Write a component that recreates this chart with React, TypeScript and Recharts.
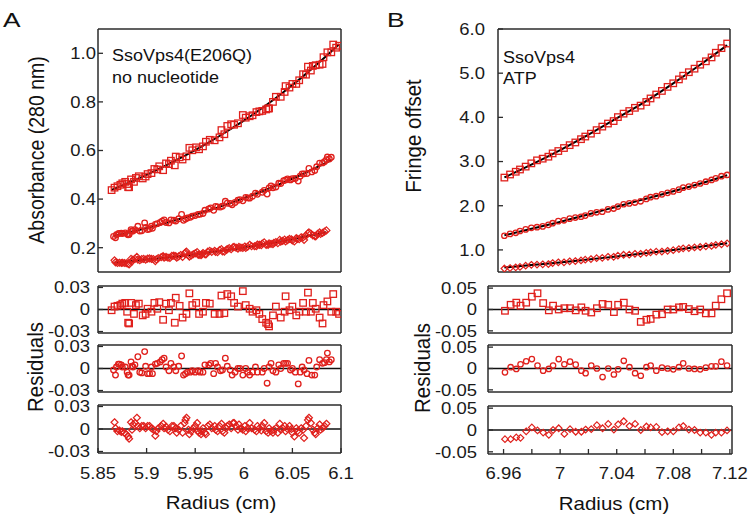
import { ComposedChart, Scatter, Line, XAxis, YAxis, ReferenceLine } from 'recharts'

const RED = '#e0201c'
const AX = '#2b2b2b'
const FONT = '"Liberation Sans", Arial, sans-serif'
const SX = 1.12

// ---- panel A: SsoVps4(E206Q), no nucleotide (absorbance 280 nm) ----
const xA1 = [5.864, 5.867, 5.870, 5.873, 5.875, 5.878, 5.880, 5.881, 5.882, 5.884, 5.887, 5.889, 5.892, 5.896, 5.899, 5.901, 5.905, 5.908, 5.911, 5.913, 5.917, 5.920, 5.923, 5.925, 5.929, 5.930, 5.934, 5.937, 5.941, 5.944, 5.947, 5.951, 5.954, 5.958, 5.961, 5.965, 5.970, 5.975, 5.977, 5.980, 5.983, 5.987, 5.990, 5.994, 5.999, 6.002, 6.006, 6.009, 6.013, 6.016, 6.019, 6.023, 6.025, 6.026, 6.030, 6.033, 6.038, 6.042, 6.043, 6.047, 6.050, 6.054, 6.057, 6.061, 6.064, 6.066, 6.069, 6.071, 6.074, 6.078, 6.081, 6.082, 6.086, 6.090, 6.092, 6.095, 6.098]
const obsA1 = [0.437, 0.447, 0.453, 0.459, 0.465, 0.471, 0.462, 0.449, 0.449, 0.481, 0.471, 0.487, 0.494, 0.485, 0.493, 0.503, 0.507, 0.524, 0.522, 0.535, 0.519, 0.547, 0.544, 0.558, 0.539, 0.575, 0.572, 0.563, 0.576, 0.611, 0.601, 0.613, 0.605, 0.617, 0.636, 0.644, 0.642, 0.654, 0.684, 0.667, 0.701, 0.708, 0.706, 0.712, 0.746, 0.735, 0.741, 0.745, 0.758, 0.761, 0.763, 0.769, 0.773, 0.773, 0.800, 0.821, 0.821, 0.841, 0.865, 0.859, 0.874, 0.874, 0.889, 0.914, 0.912, 0.945, 0.929, 0.948, 0.951, 0.953, 0.956, 0.984, 1.004, 1.004, 1.036, 1.023, 1.031]
const resA1 = [-0.001, 0.004, 0.005, 0.006, 0.008, 0.009, -0.003, -0.018, -0.019, 0.009, -0.006, 0.006, 0.008, -0.008, -0.006, 0.001, -0.003, 0.009, 0.001, 0.010, -0.014, 0.008, -0.001, 0.009, -0.018, 0.016, 0.005, -0.011, -0.006, 0.022, 0.006, 0.009, -0.006, -0.003, 0.009, 0.008, -0.006, -0.006, 0.019, -0.005, 0.021, 0.018, 0.009, 0.004, 0.025, 0.006, 0.001, -0.003, -0.001, -0.006, -0.013, -0.018, -0.020, -0.023, -0.008, 0.004, -0.011, -0.003, 0.018, -0.001, 0.004, -0.008, -0.003, 0.009, -0.003, 0.023, -0.003, 0.009, 0.001, -0.011, -0.019, 0.006, 0.011, -0.003, 0.021, -0.003, -0.006]
const fitXA1 = [5.864, 5.88, 5.90, 5.92, 5.94, 5.96, 5.98, 6.00, 6.02, 6.04, 6.06, 6.08, 6.098]
const fitA1 = [0.438, 0.465, 0.500, 0.539, 0.580, 0.624, 0.672, 0.723, 0.778, 0.838, 0.902, 0.971, 1.037]

const xA2 = [5.866, 5.868, 5.869, 5.871, 5.872, 5.874, 5.875, 5.878, 5.880, 5.881, 5.882, 5.884, 5.885, 5.886, 5.888, 5.891, 5.893, 5.895, 5.898, 5.899, 5.901, 5.903, 5.905, 5.906, 5.909, 5.911, 5.914, 5.916, 5.918, 5.920, 5.923, 5.925, 5.928, 5.930, 5.933, 5.936, 5.938, 5.940, 5.942, 5.945, 5.947, 5.950, 5.953, 5.955, 5.958, 5.960, 5.964, 5.966, 5.969, 5.971, 5.973, 5.976, 5.978, 5.981, 5.983, 5.986, 5.988, 5.991, 5.994, 5.996, 5.999, 6.002, 6.004, 6.006, 6.009, 6.012, 6.014, 6.019, 6.021, 6.024, 6.026, 6.028, 6.030, 6.033, 6.036, 6.038, 6.041, 6.043, 6.045, 6.048, 6.050, 6.053, 6.056, 6.058, 6.060, 6.062, 6.065, 6.067, 6.070, 6.073, 6.075, 6.078, 6.081, 6.083, 6.085, 6.086, 6.088, 6.090]
const obsA2 = [0.246, 0.241, 0.253, 0.258, 0.259, 0.260, 0.258, 0.261, 0.256, 0.253, 0.254, 0.274, 0.269, 0.269, 0.274, 0.288, 0.269, 0.270, 0.302, 0.283, 0.275, 0.277, 0.288, 0.280, 0.296, 0.299, 0.304, 0.309, 0.314, 0.304, 0.302, 0.314, 0.313, 0.310, 0.319, 0.337, 0.313, 0.318, 0.322, 0.325, 0.330, 0.332, 0.337, 0.338, 0.341, 0.354, 0.359, 0.364, 0.354, 0.370, 0.368, 0.367, 0.371, 0.391, 0.383, 0.382, 0.377, 0.386, 0.395, 0.398, 0.393, 0.407, 0.405, 0.404, 0.412, 0.424, 0.420, 0.428, 0.436, 0.421, 0.446, 0.454, 0.447, 0.450, 0.465, 0.464, 0.476, 0.479, 0.483, 0.479, 0.484, 0.485, 0.474, 0.494, 0.504, 0.504, 0.505, 0.526, 0.512, 0.518, 0.533, 0.548, 0.549, 0.554, 0.562, 0.573, 0.565, 0.572]
const resA2 = [-0.002, -0.009, 0.002, 0.006, 0.006, 0.005, 0.002, 0.002, -0.005, -0.009, -0.009, 0.009, 0.003, 0.002, 0.005, 0.016, -0.005, -0.006, 0.023, 0.003, -0.007, -0.007, 0.002, -0.007, 0.006, 0.007, 0.009, 0.012, 0.014, 0.002, -0.003, 0.007, 0.002, -0.003, 0.003, 0.017, -0.009, -0.007, -0.005, -0.005, -0.003, -0.005, -0.003, -0.005, -0.005, 0.005, 0.005, 0.007, -0.007, 0.007, 0.002, -0.003, -0.002, 0.014, 0.003, -0.002, -0.009, -0.005, 0, 0, -0.009, 0, -0.005, -0.009, -0.005, 0.002, -0.005, -0.005, 0, -0.020, 0.002, 0.007, -0.003, -0.005, 0.005, 0, 0.007, 0.007, 0.007, -0.002, 0, -0.005, -0.021, -0.005, 0.002, -0.002, -0.007, 0.011, -0.009, -0.009, 0.002, 0.012, 0.007, 0.008, 0.012, 0.021, 0.009, 0.012]
const fitXA2 = [5.866, 5.88, 5.90, 5.92, 5.94, 5.96, 5.98, 6.00, 6.02, 6.04, 6.06, 6.09]
const fitA2 = [0.248, 0.261, 0.281, 0.302, 0.325, 0.349, 0.375, 0.404, 0.434, 0.467, 0.502, 0.560]

const xA3 = [5.867, 5.868, 5.870, 5.872, 5.874, 5.875, 5.877, 5.879, 5.881, 5.882, 5.884, 5.885, 5.886, 5.888, 5.890, 5.891, 5.893, 5.895, 5.897, 5.899, 5.901, 5.903, 5.905, 5.907, 5.909, 5.910, 5.912, 5.915, 5.917, 5.918, 5.920, 5.922, 5.924, 5.926, 5.928, 5.930, 5.931, 5.933, 5.935, 5.937, 5.939, 5.940, 5.941, 5.943, 5.944, 5.946, 5.948, 5.950, 5.952, 5.953, 5.954, 5.956, 5.957, 5.958, 5.960, 5.961, 5.963, 5.965, 5.967, 5.970, 5.971, 5.973, 5.975, 5.977, 5.978, 5.980, 5.982, 5.983, 5.985, 5.987, 5.989, 5.990, 5.992, 5.994, 5.995, 5.997, 5.999, 6.001, 6.002, 6.004, 6.006, 6.008, 6.011, 6.013, 6.014, 6.016, 6.018, 6.019, 6.021, 6.023, 6.025, 6.026, 6.028, 6.030, 6.031, 6.033, 6.035, 6.037, 6.038, 6.040, 6.042, 6.043, 6.045, 6.047, 6.049, 6.050, 6.052, 6.054, 6.055, 6.057, 6.059, 6.061, 6.062, 6.064, 6.066, 6.067, 6.069, 6.071, 6.073, 6.074, 6.076, 6.078, 6.079, 6.081, 6.083, 6.085]
const obsA3 = [0.148, 0.140, 0.137, 0.138, 0.137, 0.138, 0.137, 0.136, 0.134, 0.131, 0.154, 0.144, 0.151, 0.154, 0.162, 0.151, 0.149, 0.153, 0.154, 0.151, 0.155, 0.156, 0.154, 0.153, 0.145, 0.152, 0.157, 0.161, 0.165, 0.159, 0.162, 0.159, 0.158, 0.166, 0.167, 0.165, 0.159, 0.164, 0.170, 0.162, 0.176, 0.180, 0.184, 0.169, 0.163, 0.168, 0.173, 0.177, 0.182, 0.171, 0.170, 0.169, 0.173, 0.178, 0.173, 0.172, 0.184, 0.187, 0.183, 0.187, 0.183, 0.182, 0.190, 0.194, 0.185, 0.184, 0.191, 0.194, 0.198, 0.194, 0.202, 0.203, 0.200, 0.196, 0.203, 0.200, 0.199, 0.205, 0.199, 0.204, 0.212, 0.206, 0.206, 0.206, 0.213, 0.212, 0.210, 0.217, 0.222, 0.212, 0.212, 0.218, 0.216, 0.215, 0.220, 0.223, 0.219, 0.232, 0.225, 0.228, 0.233, 0.226, 0.231, 0.236, 0.234, 0.230, 0.226, 0.239, 0.236, 0.235, 0.243, 0.242, 0.232, 0.250, 0.259, 0.263, 0.258, 0.251, 0.248, 0.247, 0.257, 0.263, 0.257, 0.261, 0.266, 0.271]
const resA3 = [0.009, 0.001, -0.003, -0.002, -0.004, -0.003, -0.005, -0.007, -0.010, -0.013, 0.009, -0.001, 0.006, 0.008, 0.015, 0.004, 0.001, 0.004, 0.004, 0.001, 0.004, 0.004, 0.001, -0.001, -0.009, -0.003, 0.001, 0.004, 0.007, 0.001, 0.003, -0.001, -0.003, 0.004, 0.004, 0.001, -0.005, -0.001, 0.004, -0.005, 0.008, 0.012, 0.015, -0.001, -0.007, -0.003, 0.001, 0.004, 0.008, -0.003, -0.005, -0.007, -0.003, 0.001, -0.005, -0.007, 0.004, 0.006, 0.001, 0.004, -0.001, -0.003, 0.004, 0.007, -0.003, -0.005, 0.001, 0.004, 0.006, 0.001, 0.008, 0.008, 0.004, -0.001, 0.006, 0.001, -0.001, 0.004, -0.003, 0.001, 0.008, 0.001, -0.001, -0.003, 0.004, 0.001, -0.002, 0.004, 0.008, -0.003, -0.005, 0.001, -0.003, -0.005, -0.001, 0.001, -0.005, 0.007, -0.001, 0.001, 0.004, -0.003, 0, 0.004, 0, -0.005, -0.010, 0.001, -0.003, -0.005, 0.001, -0.001, -0.012, 0.004, 0.012, 0.015, 0.008, -0.001, -0.005, -0.007, 0.001, 0.006, -0.001, 0.001, 0.004, 0.007]
const fitXA3 = [5.867, 5.88, 5.90, 5.92, 5.94, 5.96, 5.98, 6.00, 6.02, 6.04, 6.06, 6.085]
const fitA3 = [0.139, 0.143, 0.151, 0.159, 0.168, 0.178, 0.189, 0.200, 0.214, 0.227, 0.243, 0.264]

// ---- panel B: SsoVps4, ATP (interference) ----
const xB = [6.961, 6.965, 6.969, 6.972, 6.976, 6.980, 6.984, 6.988, 6.992, 6.995, 6.999, 7.003, 7.007, 7.011, 7.015, 7.018, 7.022, 7.026, 7.030, 7.034, 7.038, 7.041, 7.045, 7.049, 7.053, 7.057, 7.061, 7.064, 7.068, 7.072, 7.076, 7.080, 7.084, 7.087, 7.091, 7.095, 7.099, 7.103, 7.107, 7.110, 7.114, 7.118]
const obsB1 = [2.637, 2.707, 2.769, 2.820, 2.885, 2.959, 3.027, 3.065, 3.110, 3.184, 3.238, 3.306, 3.371, 3.432, 3.506, 3.566, 3.631, 3.711, 3.791, 3.860, 3.916, 4.006, 4.084, 4.143, 4.216, 4.266, 4.348, 4.428, 4.517, 4.598, 4.690, 4.771, 4.859, 4.943, 5.022, 5.102, 5.192, 5.269, 5.357, 5.463, 5.567, 5.671]
const resB1 = [-0.003, 0.011, 0.016, 0.009, 0.016, 0.030, 0.038, 0.015, -0.002, 0.009, 0, 0.003, 0.003, -0.002, 0.005, -0.003, -0.007, 0.003, 0.013, 0.011, -0.006, 0.011, 0.016, 0, -0.003, -0.029, -0.024, -0.022, -0.012, -0.011, 0, 0, 0.005, 0.006, 0.001, -0.004, 0, -0.009, -0.009, 0.009, 0.024, 0.038]
const obsB2 = [1.321, 1.362, 1.387, 1.428, 1.464, 1.499, 1.514, 1.532, 1.567, 1.605, 1.651, 1.670, 1.708, 1.732, 1.750, 1.776, 1.826, 1.851, 1.864, 1.917, 1.936, 1.981, 2.034, 2.053, 2.072, 2.100, 2.155, 2.193, 2.216, 2.257, 2.291, 2.324, 2.364, 2.409, 2.433, 2.468, 2.503, 2.544, 2.583, 2.620, 2.668, 2.697]
const resB2 = [-0.009, 0.003, -0.001, 0.010, 0.017, 0.022, 0.007, -0.005, -0.001, 0.007, 0.022, 0.010, 0.016, 0.009, -0.005, -0.011, 0.007, 0, -0.020, 0, -0.014, -0.002, 0.018, 0.003, -0.011, -0.017, 0.003, 0.007, -0.005, 0.002, 0, -0.002, 0.003, 0.012, 0, -0.001, -0.002, 0.002, 0.005, 0.005, 0.016, 0.007]
const obsB3 = [0.579, 0.590, 0.605, 0.615, 0.642, 0.662, 0.667, 0.674, 0.680, 0.703, 0.719, 0.719, 0.742, 0.748, 0.761, 0.779, 0.792, 0.814, 0.820, 0.844, 0.844, 0.869, 0.890, 0.892, 0.911, 0.911, 0.933, 0.945, 0.960, 0.963, 0.979, 0.994, 1.018, 1.035, 1.042, 1.056, 1.066, 1.081, 1.091, 1.112, 1.128, 1.148]
const resB3 = [-0.021, -0.021, -0.017, -0.018, -0.003, 0.006, -0.001, -0.006, -0.011, 0, 0.004, -0.009, 0.002, -0.004, -0.004, 0.001, 0.002, 0.011, 0.004, 0.014, 0.001, 0.013, 0.020, 0.009, 0.014, 0, 0.008, 0.006, 0.007, -0.005, -0.003, -0.003, 0.006, 0.009, 0.001, 0, -0.006, -0.006, -0.011, -0.006, -0.006, -0.001]
const fitXB = [6.961, 6.98, 7.0, 7.02, 7.04, 7.06, 7.08, 7.10, 7.118]
const fitB1 = [2.640, 2.929, 3.254, 3.603, 3.976, 4.352, 4.771, 5.214, 5.633]
const fitB2 = [1.330, 1.477, 1.633, 1.803, 1.978, 2.152, 2.326, 2.508, 2.690]
const fitB3 = [0.600, 0.656, 0.714, 0.784, 0.850, 0.923, 0.997, 1.076, 1.149]

// ticks
const ticksXA = [5.85, 5.9, 5.95, 6, 6.05, 6.1]
const ticksYA = [0.2, 0.4, 0.6, 0.8, 1.0]
const ticksResA = [-0.03, 0, 0.03]
const ticksXB = [6.96, 6.98, 7, 7.02, 7.04, 7.06, 7.08, 7.1, 7.12]
const labelsXB = [6.96, 7, 7.04, 7.08, 7.12]
const ticksYB = [1, 2, 3, 4, 5, 6]
const ticksResB = [-0.05, 0, 0.05]

const pts = (xs: number[], ys: number[]) => xs.map((x, i) => ({ x, y: ys[i] }))

const marker = (kind: string, s: number) => (p: any) => {
  const { cx, cy } = p
  if (cx == null || cy == null) return <g />
  if (kind === 'sq')
    return <rect x={cx - s / 2} y={cy - s / 2} width={s} height={s} fill="none" stroke={RED} strokeWidth={1.3} />
  if (kind === 'ci') return <circle cx={cx} cy={cy} r={s / 2} fill="none" stroke={RED} strokeWidth={1.3} />
  return (
    <path d={`M${cx},${cy - s / 2}L${cx + s / 2},${cy}L${cx},${cy + s / 2}L${cx - s / 2},${cy}Z`}
      fill="none" stroke={RED} strokeWidth={1.2} />
  )
}

const yTick = (fmt: (v: number) => string) => (p: any) => (
  <text transform={`translate(${p.x},${p.y}) scale(${SX},1)`} textAnchor="end" dy="0.36em"
    fontSize={16.5} fontFamily={FONT} fill="#1a1a1a">{fmt(p.payload.value)}</text>
)
const xTick = (fmt: (v: number) => string, dy: number) => (p: any) => {
  const s = fmt(p.payload.value)
  if (!s) return <g />
  return (
    <text transform={`translate(${p.x},${p.y}) scale(${SX},1)`} textAnchor="middle" dy={dy}
      fontSize={16.5} fontFamily={FONT} fill="#1a1a1a">{s}</text>
  )
}

interface Ser { data: { x: number; y: number }[]; shape: any }
interface PlotProps {
  box: number[]; xDomain: number[]; yDomain: number[]; xTicks: number[]; yTicks: number[]
  yFmt: (v: number) => string; yGap: number; xFmt?: (v: number) => string; xDy?: number
  series: Ser[]; fits?: { x: number; y: number }[][]; zero?: boolean
}

function Plot({ box, xDomain, yDomain, xTicks, yTicks, yFmt, yGap, xFmt, xDy = 26, series, fits = [], zero }: PlotProps) {
  const [l, t, r, b] = box
  const padL = 70, padR = 2, padT = 2, padB = xFmt ? 40 : 2
  const mT = 12, mR = 24, mB = 10
  const axisLine = { stroke: AX, strokeWidth: 1.5 }
  const tickLine = { stroke: AX, strokeWidth: 1.3 }
  return (
    <div style={{ position: 'absolute', left: l - padL, top: t - padT - mT }}>
      <ComposedChart width={r - l + padL + padR + mR} height={b - t + padT + padB + mT + mB}
        margin={{ top: mT, right: mR, bottom: mB, left: 0 }}>
        <XAxis xAxisId="b" type="number" dataKey="x" domain={xDomain} ticks={xTicks} interval={0} height={padB}
          tickSize={-5} tickMargin={5} axisLine={axisLine} tickLine={tickLine}
          tick={xFmt ? xTick(xFmt, xDy) : false} allowDataOverflow />
        <XAxis xAxisId="t" orientation="top" type="number" dataKey="x" domain={xDomain} ticks={xTicks} interval={0}
          height={padT} tickSize={-5} axisLine={axisLine} tickLine={tickLine} tick={false} allowDataOverflow />
        <YAxis yAxisId="l" type="number" dataKey="y" domain={yDomain} ticks={yTicks} interval={0} width={padL}
          tickSize={-5} tickMargin={5 + yGap} axisLine={axisLine} tickLine={tickLine} tick={yTick(yFmt)} allowDataOverflow />
        <YAxis yAxisId="r" orientation="right" type="number" dataKey="y" domain={yDomain} ticks={yTicks} interval={0}
          width={padR} tickSize={-5} axisLine={axisLine} tickLine={tickLine} tick={false} allowDataOverflow />
        {zero && <ReferenceLine xAxisId="b" yAxisId="l" y={0} stroke="#111" strokeWidth={1.5} />}
        {series.map((s, i) => (
          <Scatter key={'s' + i} xAxisId="b" yAxisId="l" data={s.data} shape={s.shape} isAnimationActive={false} />
        ))}
        {fits.map((f, i) => (
          <Line key={'f' + i} xAxisId="b" yAxisId="l" data={f} dataKey="y" type="monotone" dot={false}
            stroke="#000" strokeWidth={2} isAnimationActive={false} />
        ))}
      </ComposedChart>
    </div>
  )
}

const T = ({ x, y, s, sx = 1.06, anchor = 'start', children }: any) => (
  <text transform={`translate(${x},${y}) scale(${sx},1)`} fontSize={s} textAnchor={anchor} fontFamily={FONT} fill="#111">{children}</text>
)
const V = ({ x, y, s, children }: any) => (
  <text transform={`translate(${x},${y}) rotate(-90) scale(1,1.1)`} fontSize={s} textAnchor="middle" fontFamily={FONT} fill="#111">{children}</text>
)

const f1 = (v: number) => v.toFixed(1)
const fRes = (v: number) => (v === 0 ? '0' : v.toFixed(2))
const fXA = (v: number) => String(v)
const fXB = (v: number) => (labelsXB.includes(v) ? String(v) : '')

const sqA = marker('sq', 6.5), ciA = marker('ci', 5.6), diA = marker('di', 7)
const sqB = marker('sq', 6.5), ciB = marker('ci', 5.4), diB = marker('di', 6.6)

export default function App() {
  const domA = [5.85, 6.1]
  const domBm = [6.9565, 7.12]
  const domBr = [6.949, 7.1215]
  const resDomA = [-0.032, 0.032]
  const resDomB = [-0.055, 0.055]
  return (
    <div style={{ position: 'absolute', left: 0, top: 0, width: 751, height: 522, background: '#fff', overflow: 'hidden' }}>
      {/* A */}
      <Plot box={[98, 29, 341, 272]} xDomain={domA} yDomain={[0.1, 1.1]} xTicks={ticksXA} yTicks={ticksYA} yFmt={f1} yGap={2}
        series={[{ data: pts(xA1, obsA1), shape: sqA }, { data: pts(xA2, obsA2), shape: ciA }, { data: pts(xA3, obsA3), shape: diA }]}
        fits={[pts(fitXA1, fitA1), pts(fitXA2, fitA2), pts(fitXA3, fitA3)]} />
      <Plot box={[98, 286, 341, 333]} xDomain={domA} yDomain={resDomA} xTicks={ticksXA} yTicks={ticksResA} yFmt={fRes} yGap={8}
        series={[{ data: pts(xA1, resA1), shape: sqA }]} zero />
      <Plot box={[98, 345, 341, 392]} xDomain={domA} yDomain={resDomA} xTicks={ticksXA} yTicks={ticksResA} yFmt={fRes} yGap={8}
        series={[{ data: pts(xA2, resA2), shape: ciA }]} zero />
      <Plot box={[98, 405, 341, 453]} xDomain={domA} yDomain={resDomA} xTicks={ticksXA} yTicks={ticksResA} yFmt={fRes} yGap={8}
        xFmt={fXA} xDy={26} series={[{ data: pts(xA3, resA3), shape: diA }]} zero />

      {/* B */}
      <Plot box={[498, 29, 730, 272]} xDomain={domBm} yDomain={[0.5, 6.0]} xTicks={ticksXB} yTicks={ticksYB} yFmt={f1} yGap={13}
        series={[{ data: pts(xB, obsB1), shape: sqB }, { data: pts(xB, obsB2), shape: ciB }, { data: pts(xB, obsB3), shape: diB }]}
        fits={[pts(fitXB, fitB1), pts(fitXB, fitB2), pts(fitXB, fitB3)]} />
      <Plot box={[488, 286, 732, 333]} xDomain={domBr} yDomain={resDomB} xTicks={ticksXB} yTicks={ticksResB} yFmt={fRes} yGap={11}
        series={[{ data: pts(xB, resB1), shape: sqB }]} zero />
      <Plot box={[488, 345, 732, 392]} xDomain={domBr} yDomain={resDomB} xTicks={ticksXB} yTicks={ticksResB} yFmt={fRes} yGap={11}
        series={[{ data: pts(xB, resB2), shape: ciB }]} zero />
      <Plot box={[488, 406, 732, 454]} xDomain={domBr} yDomain={resDomB} xTicks={ticksXB} yTicks={ticksResB} yFmt={fRes} yGap={11}
        xFmt={fXB} xDy={25} series={[{ data: pts(xB, resB3), shape: diB }]} zero />

      <svg width={751} height={522} style={{ position: 'absolute', left: 0, top: 0, pointerEvents: 'none' }}>
        <T x={3} y={27} s={21} sx={1.25}>A</T>
        <T x={387} y={27} s={21} sx={1.25}>B</T>
        <T x={112} y={61} s={17}>SsoVps4(E206Q)</T>
        <T x={112} y={83} s={17}>no nucleotide</T>
        <T x={503} y={63} s={17}>SsoVps4</T>
        <T x={503} y={84} s={17}>ATP</T>
        <V x={44} y={150} s={19.5}>Absorbance (280 nm)</V>
        <V x={43} y={367} s={20.5}>Residuals</V>
        <V x={421} y={136} s={20.5}>Fringe offset</V>
        <V x={430} y={368} s={20.5}>Residuals</V>
        <T x={221} y={509} s={18} sx={1.14} anchor="middle">Radius (cm)</T>
        <T x={614} y={510} s={18} sx={1.14} anchor="middle">Radius (cm)</T>
      </svg>
    </div>
  )
}
